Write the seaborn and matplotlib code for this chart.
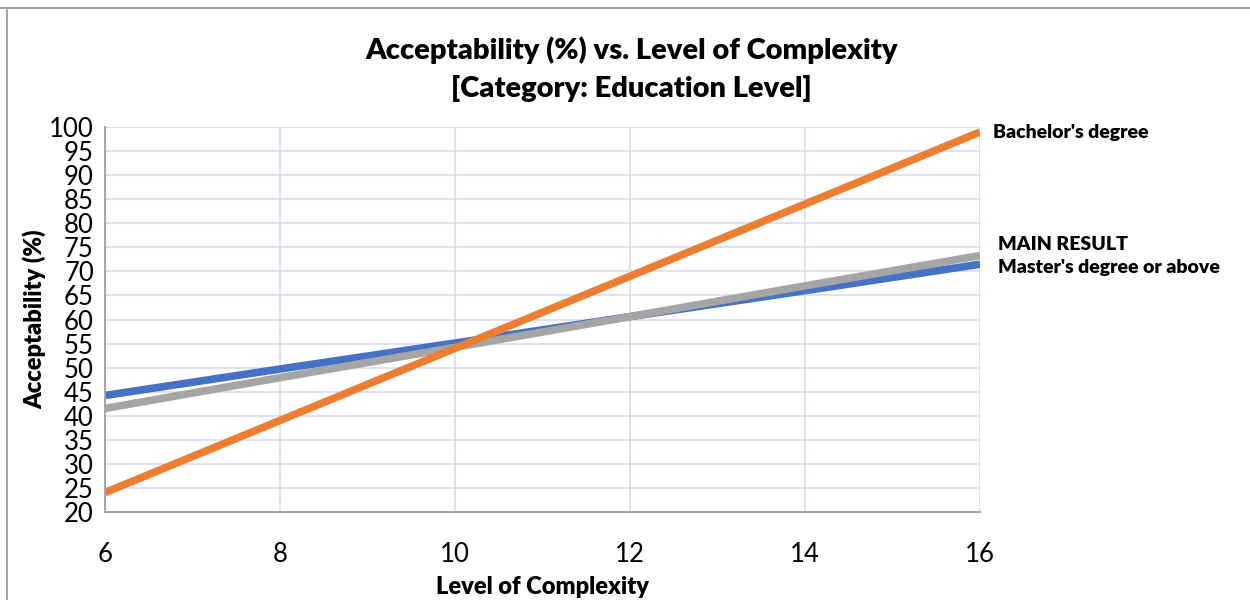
import matplotlib
matplotlib.use("Agg")
import matplotlib.pyplot as plt
from matplotlib.lines import Line2D
import seaborn as sns
import pandas as pd

# Values read at each complexity level
complexity = [6, 8, 10, 12, 14, 16]
masters = [44.2, 49.7, 55.1, 60.6, 66.0, 71.5]
main_result = [41.5, 47.9, 54.2, 60.6, 67.0, 73.3]
bachelors = [24.0, 39.0, 54.0, 69.0, 84.0, 99.0]

series_names = ["Master's degree or above", "MAIN RESULT", "Bachelor's degree"]
series_colors = ["#4472C4", "#A5A5A5", "#ED7D31"]

y_ticks = list(range(20, 101, 5))
x_ticks = [6, 8, 10, 12, 14, 16]

df = pd.DataFrame({
    "Level of Complexity": complexity * 3,
    "Acceptability (%)": masters + main_result + bachelors,
    "series": [series_names[0]] * len(complexity)
    + [series_names[1]] * len(complexity)
    + [series_names[2]] * len(complexity),
})

sns.set_theme(style="white")
plt.rcParams["font.family"] = ["Lato", "DejaVu Sans"]
plt.rcParams["text.color"] = "black"
plt.rcParams["axes.labelcolor"] = "black"

fig = plt.figure(figsize=(12.5, 6), dpi=100)
ax = fig.add_axes([0.084, 0.147, 0.7, 0.641])

sns.lineplot(
    data=df, x="Level of Complexity", y="Acceptability (%)", hue="series",
    hue_order=series_names, palette=series_colors, linewidth=5.5,
    legend=False, ax=ax, solid_capstyle="butt",
)

ax.set_xlim(6, 16)
ax.set_ylim(20, 100)
ax.set_xticks(x_ticks)
ax.set_yticks(y_ticks)
ax.grid(True, color="#D4DAF4", linewidth=1.1)
ax.set_axisbelow(True)

for side in ["top", "right"]:
    ax.spines[side].set_visible(False)
for side in ["left", "bottom"]:
    ax.spines[side].set_color("#A6A6A6")
    ax.spines[side].set_linewidth(1.5)

ax.tick_params(axis="x", labelsize=18.5, pad=22, length=0, colors="black")
ax.tick_params(axis="y", labelsize=18.5, pad=8, length=0, colors="black")

ax.set_xlabel("Level of Complexity", fontsize=17, fontweight="heavy", labelpad=6)
ax.set_ylabel("Acceptability (%)", fontsize=17, fontweight="heavy", labelpad=2)

fig.suptitle("Acceptability (%) vs. Level of Complexity\n[Category: Education Level]",
             x=0.505, y=0.94, fontsize=21, fontweight="heavy", linespacing=1.5)

# Series labels at the right end of each line
ax.text(16.15, bachelors[-1], "Bachelor's degree", fontsize=14, fontweight="heavy",
        va="center", ha="left")
ax.text(16.2, main_result[-1] + 2.4, "MAIN RESULT", fontsize=14, fontweight="heavy",
        va="center", ha="left")
ax.text(16.2, masters[-1] - 0.6, "Master's degree or above", fontsize=14,
        fontweight="heavy", va="center", ha="left")

# Chart frame
fig.add_artist(Line2D([0, 1], [0.987, 0.987], transform=fig.transFigure,
                      color="#A6A6A6", linewidth=1.5))
fig.add_artist(Line2D([0.0058, 0.0058], [0, 0.987], transform=fig.transFigure,
                      color="#A6A6A6", linewidth=1.5))

fig.savefig("out.png", dpi=100, facecolor="white")
